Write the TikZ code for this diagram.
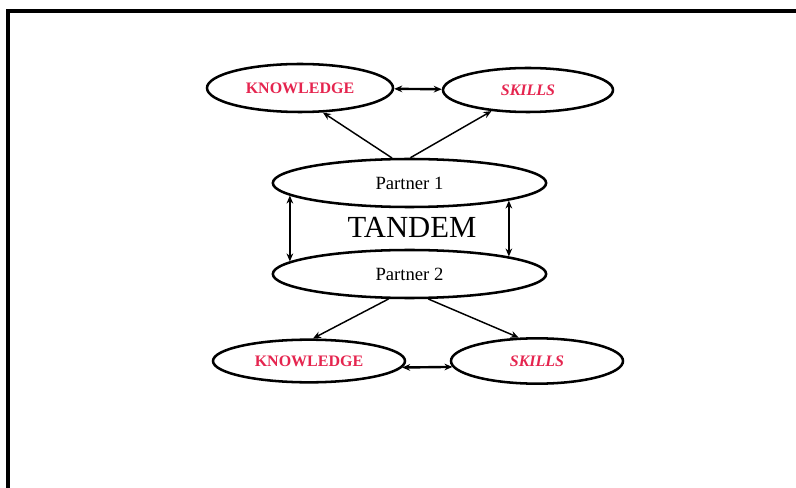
\documentclass[tikz,border=0pt]{standalone}
\usepackage{fontspec}
\setmainfont{Liberation Serif}
\usepackage{tikz}
\usetikzlibrary{arrows.meta, positioning, shapes.geometric}
\usepackage{xcolor}
\definecolor{termred}{HTML}{E5254F}

\begin{document}
\begin{tikzpicture}[x=0.75pt, y=-0.75pt,
  oval/.style={draw, ellipse, line width=1.9pt, inner sep=0pt, align=center},
  term/.style={oval, font=\fontsize{12}{14}\selectfont\bfseries, text=termred},
  partner/.style={oval, font=\fontsize{14}{16}\selectfont},
  arr/.style={-{Stealth[length=6pt, width=5pt]}, line width=1.1pt},
  dbl/.style={{Stealth[length=6pt, width=5pt]}-{Stealth[length=6pt, width=5pt]}, line width=1.3pt}
]
  \useasboundingbox (0,0) rectangle (796,488);
  % frame
  \draw[line width=2.4pt] (8,488) -- (8,11) -- (796,11);

  % upper pair
  \node[term, minimum width=139.5pt, minimum height=36pt] (k1) at (300,88) {KNOWLEDGE};
  \node[term, minimum width=127.5pt, minimum height=33pt] (s1) at (528,90) {\itshape SKILLS};
  \draw[dbl, line width=1.8pt] (k1) -- (s1);

  % partners
  \node[partner, minimum width=205pt, minimum height=36pt] (p1) at (409.5,183) {Partner 1};
  \node[partner, minimum width=205pt, minimum height=36pt] (p2) at (409.5,274) {Partner 2};
  \node[font=\fontsize{23}{26}\selectfont] (tandem) at (412,227) {TANDEM};
  \draw[dbl] (p1.186) -- (p2.174);
  \draw[dbl] (p1.350) -- (p2.10);
  \draw[arr] (p1.125) -- (k1.313);
  \draw[arr] (p1.88) -- (s1.210);

  % lower pair
  \node[term, minimum width=144pt, minimum height=32pt] (k2) at (309,361) {KNOWLEDGE};
  \node[term, minimum width=129pt, minimum height=34pt] (s2) at (537,361) {\itshape SKILLS};
  \draw[dbl, line width=1.8pt] (k2.356) -- (s2.184);
  \draw[arr] (p2.230) -- (k2.80);
  \draw[arr] (p2.307) -- (s2.128);
\end{tikzpicture}
\end{document}
